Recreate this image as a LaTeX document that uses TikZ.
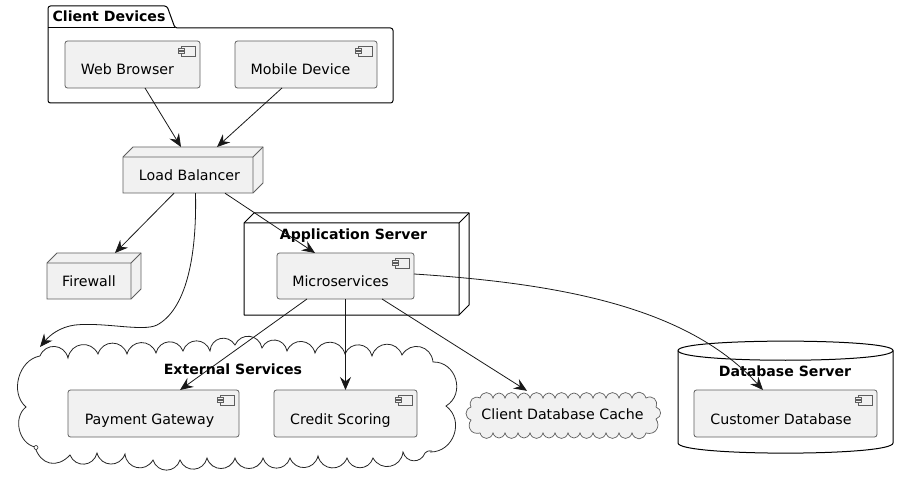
\documentclass[tikz,border=0pt]{standalone}
\usepackage{fontspec}
\setmainfont{DejaVu Sans}
\usetikzlibrary{arrows.meta}
\definecolor{boxfill}{HTML}{F1F1F1}
\definecolor{boxline}{HTML}{5E5E5E}
\definecolor{inkc}{HTML}{181818}
\tikzset{
  txt/.style={inner sep=0pt,anchor=base,yshift=-1pt,font=\fontsize{14.2}{16}\selectfont,text=black},
  titletxt/.style={inner sep=0pt,anchor=base,yshift=-1pt,font=\fontsize{14.1}{16}\selectfont\bfseries,text=black},
  comp/.style={draw=boxline,fill=boxfill,line width=0.8pt,rounded corners=2.5pt,inner sep=0pt,outer sep=0pt},
  nodebox/.style={draw=boxline,fill=boxfill,line width=0.8pt,inner sep=0pt,outer sep=0pt},
  contain/.style={draw=black,line width=1pt,line join=round},
  conn/.style={draw=inkc,line width=0.8pt,-{Stealth[length=13pt,width=11pt,inset=4.5pt]}},
  iconline/.style={draw=boxline,line width=0.7pt,fill=boxfill},
  cloudline/.style={draw=black!85,line width=0.8pt}
}
\newcommand{\compicon}[1]{%
  \draw[iconline] ([shift={(-19,5)}]#1.north east) rectangle ([shift={(-5,15)}]#1.north east);
  \draw[iconline] ([shift={(-22,7.5)}]#1.north east) rectangle ([shift={(-16,9.5)}]#1.north east);
  \draw[iconline] ([shift={(-22,10.5)}]#1.north east) rectangle ([shift={(-16,12.5)}]#1.north east);
}
\begin{document}
\begin{tikzpicture}[x=1pt,y=-1pt]
\useasboundingbox (0,0) rectangle (908,481);

% Client Devices package
\draw[contain,rounded corners=2.5pt] (48,28) -- (48,6) -- (167,6) -- (175,28) -- (393,28) -- (393,103) -- (48,103) -- cycle;
\draw[contain] (48,28) -- (175,28);
\node[titletxt] (clienttitle) at (109,21) {Client Devices};
\node[comp,minimum width=135pt,minimum height=47pt] (web) at (132.5,64.5) {};
\node[txt] (webt) at (127.5,74) {Web Browser};
\compicon{web}
\node[comp,minimum width=142pt,minimum height=47pt] (mobile) at (306,64.5) {};
\node[txt] (mobilet) at (300.5,74) {Mobile Device};
\compicon{mobile}

% Load Balancer
\draw[nodebox] (123,157) -- (133,147) -- (263,147) -- (263,183) -- (253,193) -- (123,193) -- cycle;
\draw[nodebox,fill=none] (123,157) -- (253,157) -- (263,147) (253,157) -- (253,193);
\node[minimum width=130pt,minimum height=36pt,inner sep=0pt] (lb) at (188,175) {};
\node[txt] (lbt) at (189.5,180) {Load Balancer};

% Firewall
\draw[nodebox] (47,263) -- (57,253) -- (141,253) -- (141,289) -- (131,299) -- (47,299) -- cycle;
\draw[nodebox,fill=none] (47,263) -- (131,263) -- (141,253) (131,263) -- (131,299);
\node[minimum width=84pt,minimum height=36pt,inner sep=0pt] (fw) at (89,281) {};
\node[txt] (fwt) at (89,286) {Firewall};

% Application Server
\draw[contain] (244,223) -- (254,213) -- (469,213) -- (469,305) -- (459,315) -- (244,315) -- cycle;
\draw[contain] (244,223) -- (459,223) -- (469,213) (459,223) -- (459,315);
\node[titletxt] (apptitle) at (353.5,239) {Application Server};
\node[comp,minimum width=137pt,minimum height=46pt] (micro) at (345.5,276) {};
\node[txt] (microt) at (340.5,286) {Microservices};
\compicon{micro}

% External Services cloud
\coordinate (extin) at (40,347);
\draw[cloudline,looseness=1.35]
  (40,356) foreach \px/\py in {68/358,98/354,127/354,156/353,183/351,210/351,235/345,262/348,287/351,315/353,345/354,372/356,402/355,433/362}
     { to[bend left=72] (\px,\py) }
  to[bend left=75,looseness=1.3] (446,406)
  to[bend left=72,looseness=1.25] (430,452);
\draw[cloudline,looseness=1.35]
  (432,451) to[bend right=20] (425,453)
  foreach \px/\py in {403/452,373/458,347/458,318/456,290/458,263/458,235/458,207/458,180/460,153/460,125/454,97/453,70/455}
     { to[bend left=72] (\px,\py) }
  to[bend left=60] (35,447)
  to[bend left=65,looseness=1.05] (26,407)
  to[bend left=65,looseness=1.05] (40,356);
\draw[cloudline,line width=0.6pt,fill=white] (36,447.5) circle (2);
\node[titletxt] (exttitle) at (233,373) {External Services};
\node[comp,minimum width=171pt,minimum height=47pt] (pay) at (153.5,413.5) {};
\node[txt] (payt) at (149.5,423) {Payment Gateway};
\compicon{pay}
\node[comp,minimum width=143pt,minimum height=47pt] (credit) at (345.5,413.5) {};
\node[txt] (creditt) at (340.5,423) {Credit Scoring};
\compicon{credit}

% Client Database Cache cloud
\draw[draw=boxline,fill=boxfill,line width=0.7pt,looseness=1.5]
  (480,398) foreach \px in {493,505,518,530,543,555,568,580,593,606,619,632,646}
     { to[bend left=72] (\px,398) }
  to[bend left=70,looseness=1.4] (656,407)
  to[bend left=70,looseness=1.4] (656,419)
  to[bend left=70,looseness=1.4] (646,433)
  foreach \px in {632,619,606,593,580,568,555,543,530,518,505,493,480}
     { to[bend left=72] (\px,433) }
  to[bend left=70,looseness=1.4] (471,420)
  to[bend left=70,looseness=1.4] (471,407)
  to[bend left=70,looseness=1.4] (480,398) -- cycle;
\node[minimum width=194pt,minimum height=49pt,inner sep=0pt] (cache) at (564,415.5) {};
\node[txt] (cachet) at (562.5,418) {Client Database Cache};

% Database Server cylinder
\draw[contain] (678,350.5) .. controls (678,338) and (893,338) .. (893,350.5)
   -- (893,443) .. controls (893,456.5) and (678,456.5) .. (678,443) -- cycle;
\draw[contain] (678,350.5) .. controls (678,363.5) and (893,363.5) .. (893,350.5);
\node[titletxt] (dbtitle) at (785,375) {Database Server};
\node[comp,minimum width=183pt,minimum height=47pt] (cdb) at (785.5,413.5) {};
\node[txt] (cdbt) at (781,423) {Customer Database};
\compicon{cdb}

% Connectors
\draw[conn] ([xshift=12.5pt]web.south) -- ([xshift=-7pt]lb.north |- 0,147);
\draw[conn] ([xshift=-24pt]mobile.south) -- ([xshift=29pt]lb.north |- 0,147);
\draw[conn] ([xshift=-14pt]lb.south) -- ([xshift=26pt]fw.north |- 0,253);
\draw[conn] ([xshift=37pt]lb.south) -- ([xshift=-30.5pt]micro.north);
\draw[conn] ([xshift=7.5pt]lb.south) .. controls (197,260) and (185,310) .. (157,325) .. controls (143,332) and (105,322) .. (75,325) .. controls (60,327) and (50,335) .. (extin);
\draw[conn] ([xshift=-38.5pt]micro.south) -- ([xshift=26.5pt]pay.north);
\draw[conn] (micro.south) -- (credit.north);
\draw[conn] ([xshift=36.5pt]micro.south) -- ([xshift=-37pt]cache.north);
\draw[conn] ([yshift=2pt]micro.east) .. controls (570,284) and (690,310) .. ([xshift=-22.5pt]cdb.north);
\end{tikzpicture}
\end{document}
